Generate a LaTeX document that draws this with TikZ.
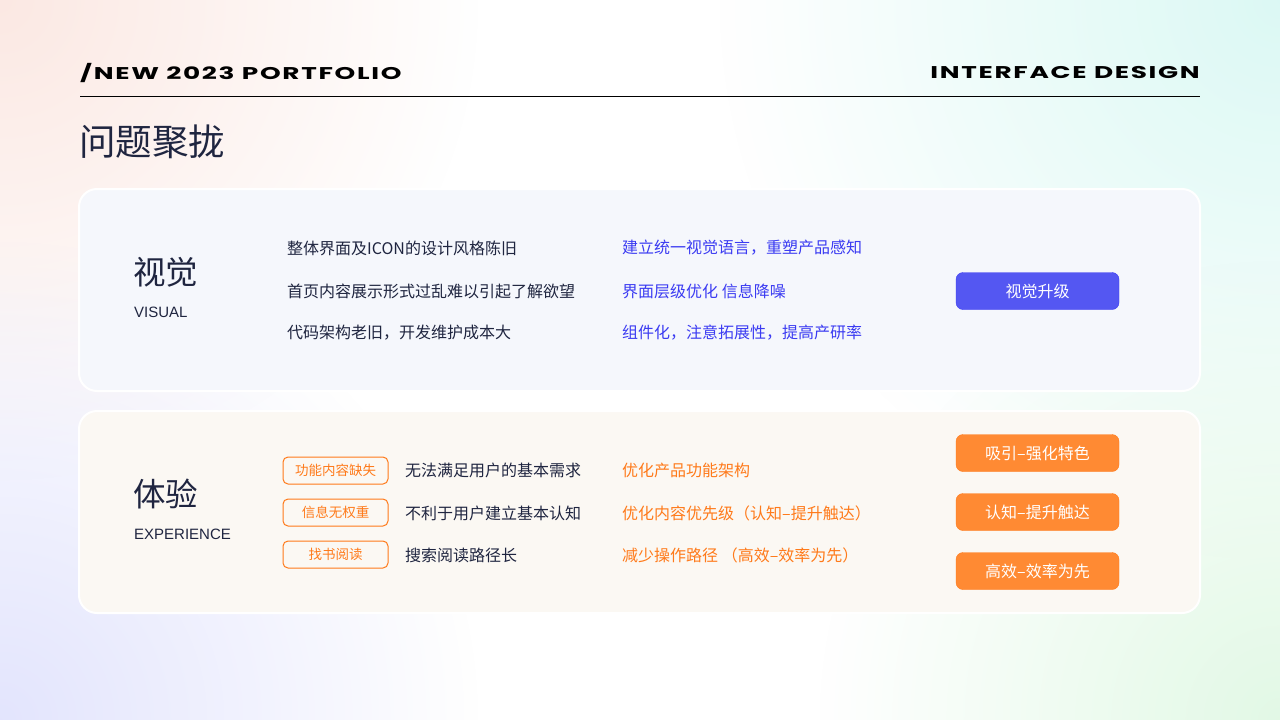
\documentclass[tikz,border=0pt]{standalone}
\usepackage{fontspec}
\usetikzlibrary{fadings}
\setmainfont{Noto Sans CJK SC}
\newfontfamily\hdfont[FakeStretch=1.55,LetterSpace=10]{Poppins}
\newfontfamily\latf{Liberation Sans}
\definecolor{navy}{HTML}{1F2540}
\definecolor{vblue}{HTML}{3B3BF2}
\definecolor{btnblue}{HTML}{5457F2}
\definecolor{org}{HTML}{FF7A1A}
\definecolor{btnorg}{HTML}{FF8A33}
\definecolor{cUL}{HTML}{FBE6E0}
\definecolor{cUR}{HTML}{D8F8F3}
\definecolor{cLL}{HTML}{E0E2FD}
\definecolor{cLR}{HTML}{DFF8E3}
\definecolor{card1}{HTML}{F5F7FC}
\definecolor{card2}{HTML}{FBF8F3}
\tikzfading[name=softfade, inner color=transparent!0, outer color=transparent!100]
\tikzset{
  card/.style={draw=white,line width=2pt,rounded corners=18pt},
  blob/.style={path fading=softfade,fill opacity=0.9},
  rowtxt/.style={anchor=west,font=\fontsize{16}{19}\selectfont,text=navy,inner sep=0},
  bluetxt/.style={anchor=west,font=\fontsize{16}{19}\selectfont,text=vblue,inner sep=0},
  orgtxt/.style={anchor=west,font=\fontsize{16}{19}\selectfont,text=org,inner sep=0},
  tagbox/.style={draw=org,line width=1pt,rounded corners=5pt,minimum width=105pt,minimum height=27pt,text=org,font=\fontsize{13.5}{15}\selectfont,inner sep=0},
  btn/.style={rounded corners=7pt,minimum width=163pt,minimum height=37pt,text=white,font=\fontsize{16}{19}\selectfont,inner sep=0},
  hd/.style={inner sep=0,font=\hdfont\bfseries\fontsize{17}{20}\selectfont,text=black},
}
\begin{document}
\begin{tikzpicture}[x=1pt,y=-1pt]
\useasboundingbox (0,0) rectangle (1280,720);
\fill[white] (0,0) rectangle (1280,720);
\begin{scope}
\clip (0,0) rectangle (1280,720);
\fill[cUL,blob] (0,0) circle (480);
\fill[cUR,blob] (1280,0) circle (560);
\fill[cLL,blob] (0,720) circle (480);
\fill[cLR,blob] (1280,720) circle (460);
\end{scope}
% header
\node[hd,anchor=west] (h1) at (80,73) {/NEW 2023 PORTFOLIO};
\node[hd,anchor=east] (h2) at (1200,73) {INTERFACE DESIGN};
\coordinate (l1) at (80,96); \coordinate (l2) at (1200,96);
\draw[line width=1pt] (l1) -- (l2);
\node[anchor=west,inner sep=0,font=\fontsize{36.5}{40}\selectfont,text=navy] (title) at (79,142) {问题聚拢};
% card 1
\draw[card,fill=card1] (79,189) rectangle (1200,391);
\node[anchor=west,inner sep=0,font=\fontsize{32.5}{36}\selectfont,text=navy] (v1) at (133,272) {视觉};
\node[anchor=west,inner sep=0,font=\latf\fontsize{15}{18}\selectfont,text=navy] (v2) at (134,312) {VISUAL};
\node[rowtxt] (a1) at (287,248) {整体界面及ICON的设计风格陈旧};
\node[rowtxt] (a2) at (287,291) {首页内容展示形式过乱难以引起了解欲望};
\node[rowtxt] (a3) at (287,333) {代码架构老旧，开发维护成本大};
\node[bluetxt] (b1) at (622,248) {建立统一视觉语言，重塑产品感知};
\node[bluetxt] (b2) at (622,291) {界面层级优化 信息降噪};
\node[bluetxt] (b3) at (622,333) {组件化，注意拓展性，提高产研率};
\node[btn,fill=btnblue,draw=vblue] (vb) at (1037.5,291) {视觉升级};
% card 2
\draw[card,fill=card2] (79,411) rectangle (1200,613);
\node[anchor=west,inner sep=0,font=\fontsize{32.5}{36}\selectfont,text=navy] (e1) at (133,494) {体验};
\node[anchor=west,inner sep=0,font=\latf\fontsize{15}{18}\selectfont,text=navy] (e2) at (134,534) {EXPERIENCE};
\node[tagbox] (t1) at (335.5,470.5) {功能内容缺失};
\node[tagbox] (t2) at (335.5,512.5) {信息无权重};
\node[tagbox] (t3) at (335.5,554.5) {找书阅读};
\node[rowtxt] (c1) at (405,470) {无法满足用户的基本需求};
\node[rowtxt] (c2) at (405,513) {不利于用户建立基本认知};
\node[rowtxt] (c3) at (405,555) {搜索阅读路径长};
\node[orgtxt] (d1) at (622,470) {优化产品功能架构};
\node[orgtxt] (d2) at (622,513) {优化内容优先级（认知–提升触达）};
\node[orgtxt] (d3) at (622,555) {减少操作路径 （高效–效率为先）};
\node[btn,fill=btnorg,draw=org] (o1) at (1037.5,453) {吸引–强化特色};
\node[btn,fill=btnorg,draw=org] (o2) at (1037.5,512) {认知–提升触达};
\node[btn,fill=btnorg,draw=org] (o3) at (1037.5,571) {高效–效率为先};
\end{tikzpicture}
\end{document}
